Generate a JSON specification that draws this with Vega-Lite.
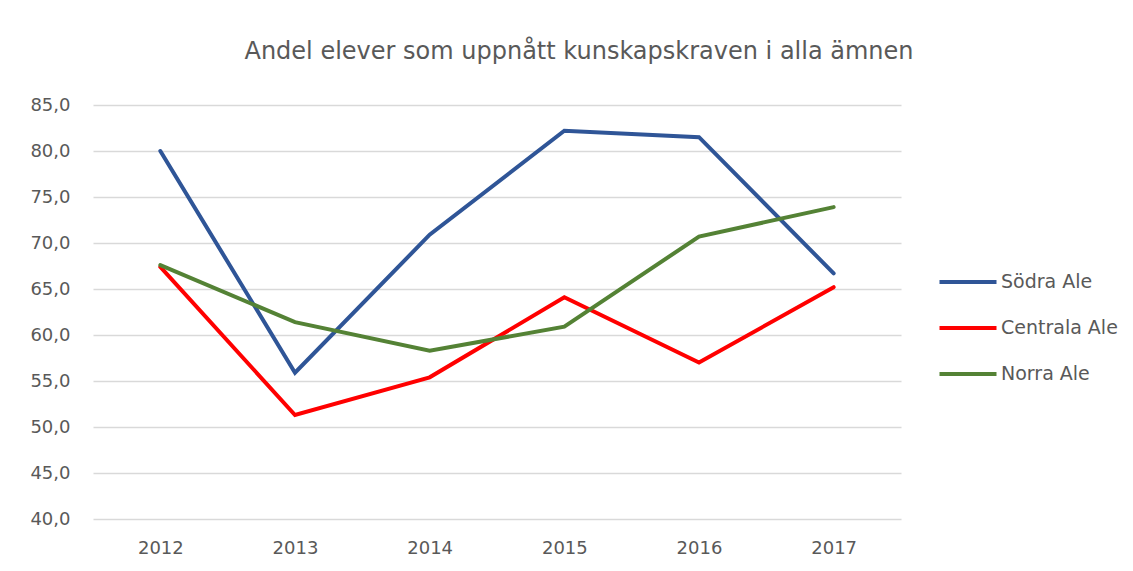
{
  "$schema": "https://vega.github.io/schema/vega-lite/v6.json",
  "autosize": {"type": "none"},
  "width": 808,
  "height": 414,
  "padding": {"left": 93, "top": 105, "right": 232, "bottom": 52},
  "background": "white",
  "title": {
    "text": "Andel elever som uppnått kunskapskraven i alla ämnen",
    "fontSize": 24,
    "font": "DejaVu Sans",
    "fontWeight": "normal",
    "color": "#595959",
    "anchor": "middle",
    "dx": 82,
    "offset": 32
  },
  "data": {
    "values": [
      {"year": "2012", "area": "Södra Ale", "value": 80.0},
      {"year": "2013", "area": "Södra Ale", "value": 55.9},
      {"year": "2014", "area": "Södra Ale", "value": 70.9},
      {"year": "2015", "area": "Södra Ale", "value": 82.2},
      {"year": "2016", "area": "Södra Ale", "value": 81.5},
      {"year": "2017", "area": "Södra Ale", "value": 66.7},
      {"year": "2012", "area": "Centrala Ale", "value": 67.4},
      {"year": "2013", "area": "Centrala Ale", "value": 51.3},
      {"year": "2014", "area": "Centrala Ale", "value": 55.4},
      {"year": "2015", "area": "Centrala Ale", "value": 64.1},
      {"year": "2016", "area": "Centrala Ale", "value": 57.0},
      {"year": "2017", "area": "Centrala Ale", "value": 65.2},
      {"year": "2012", "area": "Norra Ale", "value": 67.6},
      {"year": "2013", "area": "Norra Ale", "value": 61.4},
      {"year": "2014", "area": "Norra Ale", "value": 58.3},
      {"year": "2015", "area": "Norra Ale", "value": 60.9},
      {"year": "2016", "area": "Norra Ale", "value": 70.7},
      {"year": "2017", "area": "Norra Ale", "value": 73.9}
    ]
  },
  "mark": {"type": "line", "strokeWidth": 4, "strokeCap": "round", "strokeJoin": "miter"},
  "encoding": {
    "x": {
      "field": "year",
      "type": "ordinal",
      "scale": {"type": "point", "padding": 0.5},
      "axis": {
        "title": null,
        "labelAngle": 0,
        "domain": false,
        "ticks": false,
        "grid": false,
        "labelPadding": 20,
        "labelFontSize": 18,
        "labelFont": "DejaVu Sans",
        "labelColor": "#595959"
      }
    },
    "y": {
      "field": "value",
      "type": "quantitative",
      "scale": {"domain": [40, 85], "nice": false, "zero": false},
      "axis": {
        "title": null,
        "values": [40, 45, 50, 55, 60, 65, 70, 75, 80, 85],
        "labelExpr": "replace(format(datum.value, '.1f'), '.', ',')",
        "domain": false,
        "ticks": false,
        "grid": true,
        "gridColor": "#D9D9D9",
        "gridWidth": 1.3,
        "labelPadding": 23,
        "labelFontSize": 18,
        "labelFont": "DejaVu Sans",
        "labelColor": "#595959"
      }
    },
    "color": {
      "field": "area",
      "type": "nominal",
      "scale": {
        "domain": ["Södra Ale", "Centrala Ale", "Norra Ale"],
        "range": ["#2F5597", "#FF0000", "#548235"]
      },
      "legend": {
        "title": null,
        "orient": "none",
        "legendX": 844,
        "legendY": 168,
        "symbolType": "stroke",
        "symbolSize": 3250,
        "symbolStrokeWidth": 4,
        "clipHeight": 18,
        "labelFontSize": 19,
        "labelFont": "DejaVu Sans",
        "labelColor": "#595959",
        "labelOffset": 2,
        "rowPadding": 27
      }
    }
  },
  "config": {
    "view": {"stroke": null}
  }
}
